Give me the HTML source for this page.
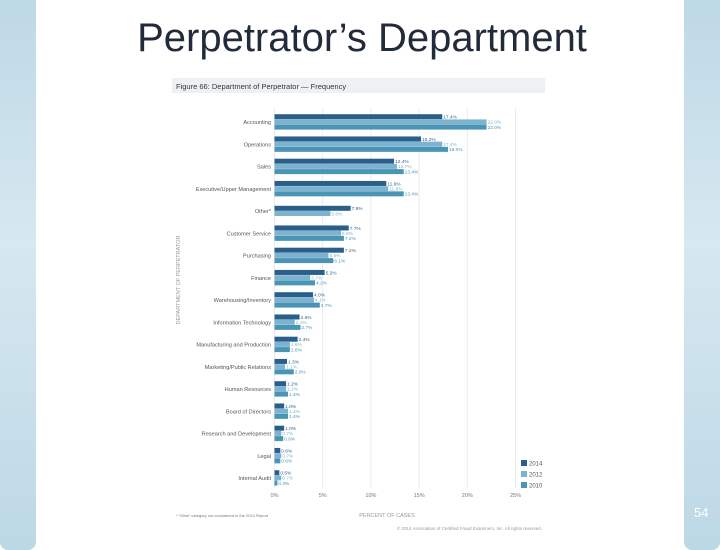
<!DOCTYPE html>
<html><head><meta charset="utf-8"><style>
html,body{margin:0;padding:0}
body{width:720px;height:540px;overflow:hidden;background:#fff;position:relative;font-family:"Liberation Sans",sans-serif}
.side{position:absolute;top:-10px;width:36px;height:560px;background:linear-gradient(#bcd8e5,#d6e8f0 45%,#bcd8e5);border-radius:8px}
</style></head><body>
<div class="side" style="left:0"></div>
<div class="side" style="left:684px"></div>
<div style="position:absolute;left:0;width:724px;top:16px;text-align:center;font-size:40px;color:#222b3a">Perpetrator’s Department</div>
<div style="position:absolute;left:694px;top:505px;font-size:13px;color:#fff">54</div>
<svg id="chart" width="720" height="540" style="position:absolute;left:0;top:0"></svg>
<script>
const categories=["Accounting","Operations","Sales","Executive/Upper Management","Other*","Customer Service","Purchasing","Finance","Warehousing/Inventory","Information Technology","Manufacturing and Production","Marketing/Public Relations","Human Resources","Board of Directors","Research and Development","Legal","Internal Audit"];
const s2014=[17.4,15.2,12.4,11.6,7.9,7.7,7.2,5.2,4.0,2.6,2.4,1.3,1.2,1.0,1.0,0.6,0.5];
const s2012=[22.0,17.4,12.7,11.8,5.8,6.9,5.6,3.7,4.1,2.1,1.6,1.1,1.2,1.4,0.7,0.7,0.7];
const s2010=[22.0,18.0,13.4,13.4,null,7.2,6.1,4.2,4.7,2.7,1.6,2.0,1.4,1.4,0.9,0.6,0.3];
const seriesNames=["2014","2012","2010"];
const ticks=[0,5,10,15,20,25];
const colors=["#2b5f8b","#7cb4cf","#4a94b5"];
const NS="http://www.w3.org/2000/svg";
const svg=document.getElementById('chart');
const x0=274.5,pxPer=9.64;
const xs=v=>x0+v*pxPer;
const yc=i=>122+i*22.25;
function mk(t,a,txt){const e=document.createElementNS(NS,t);for(const k in a)e.setAttribute(k,a[k]);if(txt!=null)e.textContent=txt;svg.appendChild(e);return e;}
let e=mk('rect',{x:172,y:78,width:373,height:15,fill:"#eef1f3"});

e=mk('text',{x:176,y:89,'font-size':7.5,fill:"#333"},"Figure 66: Department of Perpetrator — Frequency");

ticks.forEach(t=>{
 e=mk('line',{x1:xs(t),x2:xs(t),y1:108,y2:488,stroke:"#e4e6e8","stroke-width":0.8});
 
 e=mk('text',{x:xs(t),y:497,'font-size':5.5,fill:"#777",'text-anchor':'middle'},t+"%");
 
});
const series=[s2014,s2012,s2010];
categories.forEach((c,i)=>{
 const vals=series.map(s=>s[i]).filter(v=>v!=null);
 const n=vals.length;const top=yc(i)-n*5.2/2;
 let k=0;
 series.forEach((s,j)=>{
  const v=s[i];if(v==null)return;
  const y=top+k*5.2;k++;
  e=mk('rect',{x:x0,y:y,width:xs(v)-x0,height:5,fill:colors[j]});
  
  e=mk('text',{x:xs(v)+1,y:y+4.3,'font-size':4.8,fill:colors[j]},v.toFixed(1)+"%");
  
 });
 e=mk('text',{x:271,y:yc(i)+2,'font-size':5.6,fill:"#555",'text-anchor':'end'},c);
 
});
e=mk('text',{x:0,y:0,'font-size':5.5,fill:"#999",'text-anchor':'middle',transform:'translate(180,280) rotate(-90)'},"DEPARTMENT OF PERPETRATOR");

e=mk('text',{x:387,y:517,'font-size':5.5,fill:"#999",'text-anchor':'middle'},"PERCENT OF CASES");

seriesNames.forEach((n,j)=>{
 const y=460+j*11;
 e=mk('rect',{x:521,y:y,width:6,height:6,fill:colors[j]});
 
 e=mk('text',{x:529,y:y+5.5,'font-size':6,fill:"#555"},n);
 
});
e=mk('text',{x:176,y:517,'font-size':4,fill:"#777"},"* 'Other' category not considered in the 2014 Report");

e=mk('text',{x:542,y:530,'font-size':4.5,fill:"#999",'text-anchor':'end'},"© 2014 Association of Certified Fraud Examiners, Inc. All rights reserved.");

</script>
</body></html>
